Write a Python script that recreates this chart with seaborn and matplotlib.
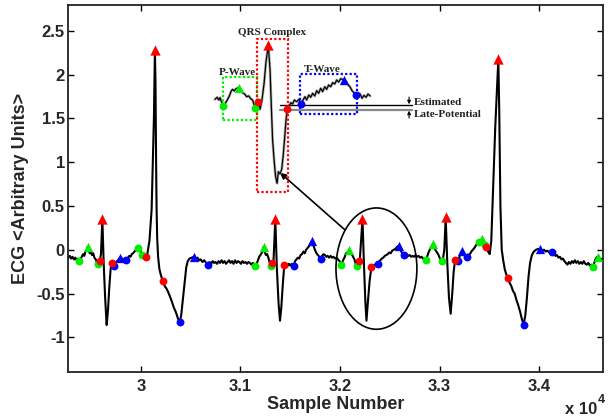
import matplotlib
matplotlib.use("Agg")
import matplotlib.pyplot as plt
import seaborn as sns
from matplotlib.patches import Ellipse, Rectangle

# ---------------- ECG record (sample index, amplitude) ----------------
sample = [
    29270, 29285, 29298, 29312, 29326, 29340, 29354, 29367, 29378, 29392,
    29405, 29418, 29430, 29442, 29452, 29463, 29474, 29485, 29496, 29508,
    29520, 29532, 29545, 29556, 29568, 29585, 29598, 29612, 29625, 29640,
    29655, 29668, 29682, 29695, 29707, 29718, 29730, 29745, 29760, 29775,
    29790, 29803, 29815, 29830, 29845, 29858, 29870, 29882, 29895, 29908,
    29920, 29935, 29950, 29968, 29985, 30000, 30013, 30030, 30047, 30062,
    30085, 30107, 30130, 30140, 30146, 30152, 30157, 30163, 30172, 30185,
    30200, 30212, 30224, 30240, 30255, 30272, 30290, 30310, 30330, 30350,
    30370, 30390, 30405, 30420, 30438, 30455, 30470, 30488, 30510, 30537,
    30552, 30568, 30585, 30600, 30618, 30635, 30655, 30673, 30690, 30705,
    30720, 30735, 30750, 30765, 30780, 30795, 30810, 30825, 30840, 30855,
    30870, 30885, 30900, 30915, 30930, 30945, 30960, 30975, 30990, 31005,
    31020, 31035, 31050, 31065, 31080, 31095, 31110, 31125, 31140, 31150,
    31163, 31176, 31188, 31200, 31212, 31222, 31232, 31244, 31256, 31268,
    31280, 31292, 31303, 31310, 31320, 31332, 31350, 31365, 31383, 31397,
    31410, 31425, 31440, 31455, 31470, 31485, 31500, 31515, 31533, 31548,
    31562, 31576, 31590, 31604, 31618, 31632, 31646, 31660, 31674, 31688,
    31702, 31717, 31732, 31748, 31763, 31778, 31793, 31807, 31820, 31834,
    31848, 31862, 31876, 31890, 31905, 31920, 31935, 31950, 31965, 31980,
    31995, 32005, 32015, 32030, 32045, 32060, 32075, 32091, 32105, 32118,
    32131, 32145, 32158, 32166, 32176, 32186, 32200, 32226, 32240, 32255,
    32266, 32280, 32298, 32316, 32330, 32345, 32360, 32378, 32390, 32405,
    32420, 32435, 32450, 32465, 32480, 32495, 32510, 32525, 32540, 32555,
    32570, 32590, 32605, 32620, 32640, 32655, 32670, 32685, 32700, 32715,
    32730, 32745, 32760, 32775, 32790, 32805, 32820, 32835, 32850, 32861,
    32875, 32890, 32905, 32920, 32935, 32948, 32962, 32975, 32990, 33005,
    33020, 33035, 33048, 33062, 33078, 33095, 33112, 33128, 33142, 33156,
    33170, 33186, 33200, 33215, 33230, 33245, 33260, 33276, 33290, 33305,
    33320, 33335, 33350, 33365, 33380, 33394, 33410, 33427, 33440, 33454,
    33471, 33488, 33504, 33520, 33560, 33591, 33600, 33612, 33625, 33640,
    33655, 33670, 33688, 33705, 33720, 33738, 33755, 33772, 33790, 33808,
    33825, 33845, 33862, 33878, 33895, 33910, 33928, 33948, 33970, 33990,
    34013, 34030, 34050, 34068, 34085, 34100, 34118, 34133, 34150, 34165,
    34180, 34195, 34210, 34225, 34240, 34255, 34270, 34285, 34300, 34315,
    34330, 34345, 34360, 34375, 34390, 34405, 34420, 34435, 34450, 34465,
    34480, 34495, 34510, 34525, 34541, 34555, 34570, 34588, 34605, 34620,
    34640,
]
ecg = [
    -0.09, -0.07, -0.10, -0.08, -0.11, -0.09, -0.12, -0.10, -0.13, -0.11,
    -0.08, -0.05, -0.07, -0.02, -0.01, 0.03, 0.00, -0.04, -0.02, -0.06,
    -0.04, -0.09, -0.11, -0.14, -0.16, -0.13, -0.05, 0.355, -0.15, -0.55,
    -0.86, -0.70, -0.42, -0.22, -0.15, -0.17, -0.18, -0.15, -0.13, -0.11,
    -0.09, -0.11, -0.10, -0.12, -0.12, -0.10, -0.09, -0.07, -0.08, -0.05,
    -0.04, -0.02, 0.00, 0.02, 0.01, -0.03, -0.065, -0.07, -0.085, -0.06,
    0.10, 0.46, 1.50, 2.28, 1.90, 1.00, 0.46, 0.13, -0.08, -0.22,
    -0.29, -0.33, -0.36, -0.42, -0.44, -0.48, -0.53, -0.59, -0.66, -0.71,
    -0.78, -0.83, -0.74, -0.58, -0.38, -0.20, -0.13, -0.10, -0.09, -0.077,
    -0.10, -0.09, -0.12, -0.11, -0.14, -0.12, -0.15, -0.17, -0.14, -0.16,
    -0.13, -0.15, -0.14, -0.16, -0.13, -0.15, -0.12, -0.15, -0.13, -0.16,
    -0.14, -0.12, -0.15, -0.13, -0.16, -0.12, -0.15, -0.13, -0.14, -0.16,
    -0.13, -0.15, -0.14, -0.16, -0.14, -0.15, -0.17, -0.15, -0.17, -0.18,
    -0.16, -0.12, -0.08, -0.06, -0.04, -0.01, 0.03, -0.03, -0.06, -0.05,
    -0.09, -0.14, -0.17, -0.19, -0.15, -0.12, 0.355, -0.20, -0.62, -0.81,
    -0.66, -0.40, -0.175, -0.17, -0.19, -0.16, -0.18, -0.16, -0.19, -0.13,
    -0.11, -0.09, -0.10, -0.06, -0.05, -0.02, -0.04, 0.00, 0.02, 0.04,
    0.07, 0.10, 0.05, 0.00, -0.04, -0.06, -0.08, -0.10, -0.07, -0.05,
    -0.06, -0.08, -0.07, -0.09, -0.07, -0.09, -0.08, -0.10, -0.09, -0.11,
    -0.13, -0.15, -0.17, -0.12, -0.09, -0.04, -0.03, 0.00, -0.04, -0.05,
    -0.08, -0.11, -0.16, -0.19, -0.16, -0.13, -0.10, 0.355, -0.15, -0.60,
    -0.81, -0.60, -0.35, -0.195, -0.19, -0.17, -0.18, -0.16, -0.14, -0.12,
    -0.10, -0.09, -0.07, -0.06, -0.05, -0.03, -0.04, -0.01, 0.00, 0.01,
    0.03, 0.046, 0.01, -0.03, -0.065, -0.06, -0.08, -0.07, -0.06, -0.08,
    -0.07, -0.08, -0.06, -0.08, -0.07, -0.09, -0.08, -0.10, -0.11, -0.115,
    -0.08, -0.03, 0.01, 0.04, 0.065, 0.03, -0.01, -0.03, -0.06, -0.10,
    -0.13, -0.10, 0.00, 0.37, -0.15, -0.55, -0.73, -0.50, -0.25, -0.12,
    -0.12, -0.13, -0.08, -0.03, -0.01, -0.05, -0.07, -0.085, -0.06, -0.05,
    -0.02, 0.00, 0.02, 0.05, 0.07, 0.085, 0.11, 0.12, 0.08, 0.06,
    0.03, -0.02, -0.05, 0.10, 1.40, 2.18, 1.60, 0.50, 0.00, -0.12,
    -0.22, -0.28, -0.32, -0.38, -0.41, -0.47, -0.50, -0.57, -0.63, -0.70,
    -0.78, -0.86, -0.75, -0.55, -0.30, -0.15, -0.06, -0.02, 0.00, 0.01,
    0.008, -0.01, 0.00, -0.02, -0.01, -0.03, -0.02, -0.03, -0.05, -0.07,
    -0.06, -0.09, -0.08, -0.11, -0.10, -0.13, -0.15, -0.17, -0.14, -0.16,
    -0.13, -0.15, -0.12, -0.15, -0.13, -0.16, -0.14, -0.16, -0.13, -0.16,
    -0.17, -0.15, -0.18, -0.17, -0.195, -0.15, -0.10, -0.077, -0.09, -0.11,
    -0.10,
]

# Detected fiducial points
qrs_peak_x = [29612, 30140, 31350, 32226, 33062, 33591]
qrs_peak_y = [0.355, 2.28, 0.355, 0.355, 0.37, 2.18]
qrs_bound_x = [29585, 29707, 30047, 30224, 31320, 31440, 32186, 32316, 33156, 33471, 33688]
qrs_bound_y = [-0.13, -0.15, -0.085, -0.36, -0.15, -0.175, -0.13, -0.195, -0.12, 0.03, -0.32]
p_peak_x = [29463, 31232, 32091, 32935, 33427, 34588]
p_peak_y = [0.03, 0.03, 0.00, 0.065, 0.12, -0.077]
p_bound_x = [29378, 29568, 29968, 30013, 31150, 31310, 32015, 32166, 32861, 33020, 33394, 33454, 34541]
p_bound_y = [-0.13, -0.16, 0.02, -0.065, -0.18, -0.19, -0.17, -0.19, -0.115, -0.13, 0.085, 0.06, -0.195]
t_peak_x = [29790, 30537, 31717, 32590, 33230, 34013]
t_peak_y = [-0.09, -0.077, 0.10, 0.046, -0.01, 0.008]
t_bound_x = [29730, 29845, 30390, 30673, 31533, 31807, 32378, 32640, 33186, 33276, 33845, 34133]
t_bound_y = [-0.18, -0.12, -0.83, -0.17, -0.19, -0.10, -0.16, -0.065, -0.13, -0.085, -0.86, -0.03]

# Magnified single beat
zoom_x = [
    31974, 31985, 31992, 31998, 32004, 32014, 32023, 32032, 32042, 32050,
    32057, 32065, 32073, 32087, 32097, 32104, 32114, 32123, 32133, 32142,
    32151, 32164, 32176, 32186, 32195, 32205, 32214, 32225, 32233, 32239,
    32245, 32252, 32259, 32266, 32272, 32280, 32288, 32295, 32302, 32308,
    32314, 32324, 32331, 32339, 32347, 32358, 32369, 32378, 32388, 32397,
    32405, 32415, 32424, 32433, 32443, 32452, 32461, 32471, 32480, 32490,
    32499, 32508, 32518, 32527, 32537, 32546, 32555, 32565, 32580, 32590,
    32599, 32608, 32618, 32627, 32637, 32646, 32656, 32665, 32674, 32684,
    32693, 32703,
]
zoom_y = [
    -0.114, -0.097, -0.120, -0.100, -0.131, -0.167, -0.147, -0.120, -0.086, -0.047,
    -0.031, -0.045, -0.025, -0.017, -0.036, -0.059, -0.070, -0.092, -0.086, -0.109,
    -0.120, -0.189, -0.139, -0.197, -0.120, 0.019, 0.200, 0.335, 0.130, -0.175,
    -0.453, -0.620, -0.759, -0.814, -0.717, -0.736, -0.695, -0.578, -0.425, -0.286,
    -0.197, -0.161, -0.142, -0.153, -0.120, -0.134, -0.114, -0.153, -0.120, -0.092,
    -0.120, -0.078, -0.097, -0.064, -0.086, -0.042, -0.064, -0.022, -0.050, -0.009,
    -0.031, 0.005, -0.009, 0.025, 0.014, 0.047, 0.030, 0.058, 0.047, 0.030,
    0.008, -0.009, -0.042, -0.059, -0.078, -0.059, -0.070, -0.106, -0.081, -0.097,
    -0.070, -0.086,
]
zoom_qrs_peak = ([32225], [0.335])
zoom_qrs_bound = ([32176, 32314], [-0.139, -0.197])
zoom_p_peak = ([32087], [-0.017])
zoom_p_bound = ([32014, 32164], [-0.167, -0.189])
zoom_t_peak = ([32580], [0.047])
zoom_t_bound = ([32378, 32637], [-0.153, -0.078])

x_ticks = [30000, 31000, 32000, 33000, 34000]
x_tick_labels = ["3", "3.1", "3.2", "3.3", "3.4"]
y_ticks = [-1, -0.5, 0, 0.5, 1, 1.5, 2, 2.5]
y_tick_labels = ["-1", "-0.5", "0", "0.5", "1", "1.5", "2", "2.5"]

RED, GREEN, BLUE = "#ff0000", "#00ee00", "#0000ff"

sns.set_theme(style="ticks")
plt.rcParams["font.family"] = ["Liberation Sans", "DejaVu Sans"]

fig = plt.figure(figsize=(6.09, 4.16), dpi=100)
ax = fig.add_axes([0.1122, 0.1050, 0.8775, 0.8837])

sns.lineplot(x=sample, y=ecg, sort=False, estimator=None, color="black",
             lw=1.5, ax=ax, zorder=2)


def fiducials(axis, xs, ys, color, marker, size):
    sns.scatterplot(x=xs, y=ys, color=color, marker=marker, s=size,
                    linewidth=0, ax=axis, zorder=4)


fiducials(ax, p_bound_x, p_bound_y, GREEN, "o", 32)
fiducials(ax, p_peak_x, p_peak_y, GREEN, "^", 45)
fiducials(ax, t_bound_x, t_bound_y, BLUE, "o", 32)
fiducials(ax, t_peak_x, t_peak_y, BLUE, "^", 45)
fiducials(ax, qrs_bound_x, qrs_bound_y, RED, "o", 32)
fiducials(ax, qrs_peak_x, qrs_peak_y, RED, "^", 55)

# highlighted beat and pointer to the magnified view
ax.add_patch(Ellipse((32366, -0.215), width=813, height=1.386, fill=False,
                     lw=1.2, ec="black", zorder=3))
ax.annotate("", xy=(31396, 0.882), xytext=(32048, 0.229),
            arrowprops=dict(arrowstyle="-|>", lw=1.2, color="black",
                            mutation_scale=9, shrinkA=0, shrinkB=0))

ax.set_xlim(29270, 34640)
ax.set_ylim(-1.4, 2.8)
ax.set_xticks(x_ticks)
ax.set_xticklabels(x_tick_labels, fontweight="bold", fontsize=12)
ax.set_yticks(y_ticks)
ax.set_yticklabels(y_tick_labels, fontweight="bold", fontsize=12)
ax.tick_params(direction="in", top=True, right=True, length=4, width=1,
               color="black")
ax.tick_params(axis="x", pad=5)
ax.tick_params(axis="y", pad=2.5)
for sp in ax.spines.values():
    sp.set_visible(True)
    sp.set_linewidth(1.3)
    sp.set_color("#222222")
ax.set_xlabel("Sample Number", fontweight="bold", fontsize=13, labelpad=1)
ax.set_ylabel("ECG <Arbitrary Units>", fontweight="bold", fontsize=13, labelpad=5)

fig.text(597 / 609, 1 - 410 / 416, "x 10", ha="right", va="center",
         fontsize=12, fontweight="bold")
fig.text(598 / 609, 1 - 400 / 416, "4", ha="left", va="center",
         fontsize=9, fontweight="bold")

# ---------------- magnified beat ----------------
iax = fig.add_axes([200 / 609, 1 - 200 / 416, 300 / 609, 180 / 416])
iax.set_facecolor("none")
iax.set_xlim(31904, 33313)
iax.set_ylim(-0.953, 0.547)
iax.axis("off")

sns.lineplot(x=zoom_x, y=zoom_y, sort=False, estimator=None, color="#b4b4b4",
             lw=2.0, ax=iax, zorder=1)
sns.lineplot(x=zoom_x, y=zoom_y, sort=False, estimator=None, color="black",
             lw=0.9, ax=iax, zorder=2)

dots = (0, (1, 1))
iax.add_patch(Rectangle((32014, -0.286), 156, 0.355, fill=False, ls=dots,
                        lw=1.6, ec=GREEN, zorder=3))
iax.add_patch(Rectangle((32173, -0.889), 143, 1.278, fill=False, ls=dots,
                        lw=1.6, ec=RED, zorder=3))
iax.add_patch(Rectangle((32374, -0.239), 266, 0.333, fill=False, ls=dots,
                        lw=1.6, ec=BLUE, zorder=3))

fiducials(iax, *zoom_p_bound, GREEN, "o", 32)
fiducials(iax, *zoom_p_peak, GREEN, "^", 45)
fiducials(iax, *zoom_t_bound, BLUE, "o", 32)
fiducials(iax, *zoom_t_peak, BLUE, "^", 45)
fiducials(iax, *zoom_qrs_bound, RED, "o", 32)
fiducials(iax, *zoom_qrs_peak, RED, "^", 55)

# late-potential window
iax.plot([32280, 32898], [-0.161, -0.161], color="black", lw=1.0, zorder=2)
iax.plot([32280, 32898], [-0.203, -0.203], color="#888888", lw=1.6, zorder=2)
iax.annotate("", xy=(32886, -0.155), xytext=(32886, -0.095),
             arrowprops=dict(arrowstyle="-|>", lw=0.8, color="black",
                             mutation_scale=5, shrinkA=0, shrinkB=0))
iax.annotate("", xy=(32886, -0.209), xytext=(32886, -0.270),
             arrowprops=dict(arrowstyle="-|>", lw=0.8, color="black",
                             mutation_scale=5, shrinkA=0, shrinkB=0))

serif = dict(family=["Liberation Serif", "DejaVu Serif"], fontweight="bold",
             fontsize=8, color="#222222")
iax.text(32079, 0.111, "P-Wave", ha="center", va="center", **serif)
iax.text(32244, 0.441, "QRS Complex", ha="center", va="center", **serif)
iax.text(32476, 0.136, "T-Wave", ha="center", va="center", **serif)
iax.text(32906, -0.139, "Estimated", ha="left", va="center", **serif)
iax.text(32906, -0.239, "Late-Potential", ha="left", va="center", **serif)

fig.savefig("out.png", dpi=100)
